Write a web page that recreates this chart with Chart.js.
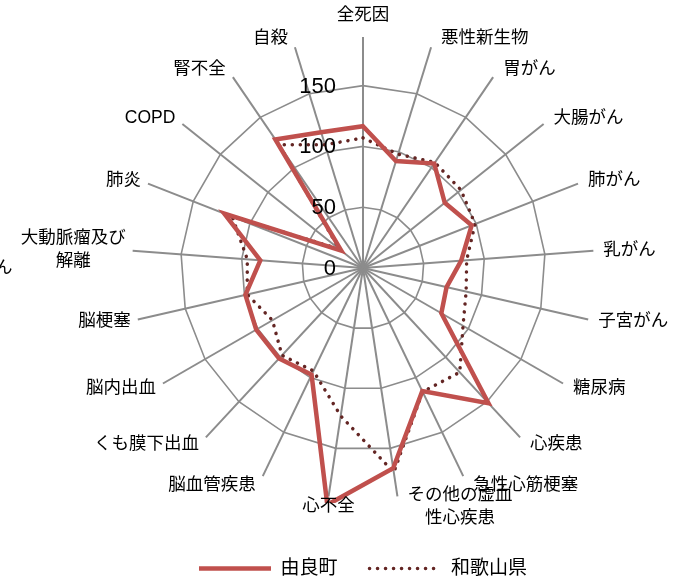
<!DOCTYPE html>
<html>
<head>
<meta charset="utf-8">
<script src="https://cdn.jsdelivr.net/npm/chart.js@4.4.0/dist/chart.umd.min.js"></script>
<style>
  html, body { margin: 0; padding: 0; background: #fff; }
  #wrap { width: 685px; height: 580px; position: relative; }
</style>
</head>
<body>
<div id="wrap"><canvas id="radar"></canvas></div>
<script>
// 標準化死亡比（SMR）
const categories = [
  '全死因', '悪性新生物', '胃がん', '大腸がん', '肺がん', '乳がん', '子宮がん',
  '糖尿病', '心疾患', '急性心筋梗塞', ['その他の虚血', '性心疾患'], '心不全',
  '脳血管疾患', 'くも膜下出血', '脳内出血', '脳梗塞', ['大動脈瘤及び', '解離'],
  '肺炎', 'COPD', '腎不全', '自殺'
];
const yuraValues = [116.6, 92, 104, 86, 96, 81, 70.5, 74.4, 151.7, 112.4, 166.6, 197,
  97.5, 101.5, 101.4, 99.2, 84.7, 122.6, 22.9, 128, 116.8];
const wakayamaValues = [107, 98, 105, 103, 99, 85.5, 87, 95, 117, 113, 170, 123,
  94, 98, 86, 97.7, 95.4, 115.6, 25, 122.8, 106];
const tickLabels = [0, 50, 100, 150];

const FONT = '"Liberation Sans", "Noto Sans CJK JP", sans-serif';
const GRAY = '#8c8c8c';

// 目盛りの数字と項目名を Excel 風の位置に描く
const labelPlugin = {
  id: 'excelLabels',
  afterDatasetsDraw(chart) {
    const scale = chart.scales.r;
    const ctx = chart.ctx;
    ctx.save();
    ctx.fillStyle = '#000';
    ctx.textBaseline = 'middle';

    // 目盛り: 縦軸の左に右寄せ
    ctx.font = '22px ' + FONT;
    ctx.textAlign = 'right';
    tickLabels.forEach(v => {
      const d = scale.getDistanceFromCenterForValue(v);
      ctx.fillText(String(v), scale.xCenter - 27, scale.yCenter - d + 1);
    });

    // 項目名
    ctx.font = '17.5px ' + FONT;
    ctx.textAlign = 'center';
    categories.forEach((lab, i) => {
      const lines = Array.isArray(lab) ? lab : [lab];
      const a = scale.getIndexAngle(i);
      const s = Math.sin(a), c = Math.cos(a);
      const e = scale.getPointPosition(i, scale.drawingArea);
      const w = Math.max(...lines.map(t => ctx.measureText(t).width));
      let cx;
      if (Math.abs(s) < 0.2 && lines.length === 1) cx = e.x;
      else if (s > 0) cx = e.x + 10 + w / 2;
      else cx = e.x - 7 - w / 2;
      const cy = i === 0 ? e.y - 22 : e.y - 10 * c;
      lines.forEach((t, k) => {
        ctx.fillText(t, cx, cy + (k - (lines.length - 1) / 2) * 23);
      });
    });

    // 左端で切れているラベルの残り
    ctx.textAlign = 'left';
    ctx.fillText('ん', -5, 268);
    ctx.restore();
  }
};

new Chart(document.getElementById('radar'), {
  type: 'radar',
  data: {
    labels: categories,
    datasets: [
      {
        label: '由良町',
        data: yuraValues,
        borderColor: '#C0504D',
        backgroundColor: 'rgba(0,0,0,0)',
        borderWidth: 4.5,
        fill: false,
        pointRadius: 0,
        pointHoverRadius: 0,
        // プロットエリアの下端で切る
        clip: { left: 200, right: 200, top: 200, bottom: -24 }
      },
      {
        label: '和歌山県',
        data: wakayamaValues,
        borderColor: '#632523',
        backgroundColor: 'rgba(0,0,0,0)',
        borderWidth: 3.5,
        borderDash: [0.1, 7.9],
        borderCapStyle: 'round',
        fill: false,
        pointRadius: 0,
        pointHoverRadius: 0
      }
    ]
  },
  options: {
    responsive: true,
    maintainAspectRatio: false,
    animation: false,
    // 幅 462px のチャート領域 -> 半径 231px、中心 (363, 268)
    layout: { padding: { top: 9, bottom: -8, left: 132, right: 91 } },
    elements: { line: { tension: 0 } },
    scales: {
      r: {
        min: 0,
        max: 190,
        startAngle: 0,
        ticks: { display: false, stepSize: 50 },
        grid: {
          circular: false,
          lineWidth: 1.6,
          color: c => (c.tick && c.tick.value > 150) ? 'rgba(0,0,0,0)' : GRAY
        },
        angleLines: { color: GRAY, lineWidth: 2 },
        pointLabels: { display: false }
      }
    },
    plugins: {
      legend: {
        position: 'bottom',
        labels: {
          usePointStyle: true,
          pointStyleWidth: 72,
          color: '#000',
          padding: 32,
          font: { size: 19, family: FONT },
          generateLabels: chart => chart.data.datasets.map((ds, i) => ({
            text: ds.label,
            datasetIndex: i,
            fillStyle: 'rgba(0,0,0,0)',
            strokeStyle: ds.borderColor,
            lineWidth: ds.borderWidth,
            lineDash: ds.borderDash || [],
            lineCap: ds.borderCapStyle || 'butt',
            pointStyle: 'line',
            fontColor: '#000',
            hidden: false
          }))
        }
      },
      tooltip: { enabled: false }
    }
  },
  plugins: [labelPlugin]
});
</script>
</body>
</html>
